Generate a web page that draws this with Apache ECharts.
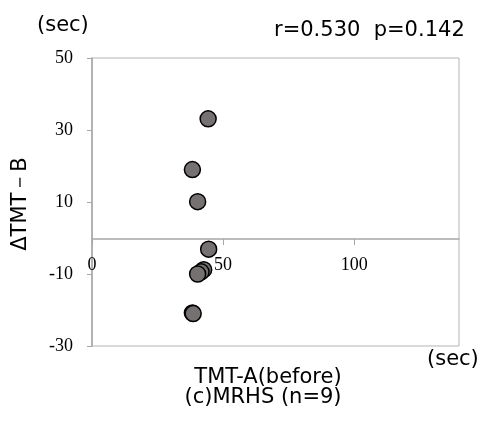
<!DOCTYPE html>
<html>
<head>
<meta charset="utf-8">
<script src="https://cdn.jsdelivr.net/npm/echarts@6/dist/echarts.min.js"></script>
<style>
  html, body { margin: 0; padding: 0; background: #fff; }
  #chart { width: 479px; height: 421px; }
</style>
</head>
<body>
<div id="chart"></div>
<script>
// TMT-A (before) vs ΔTMT-B, MRHS group
var tmtA = [44.3, 38.3, 40.3, 44.5, 42.6, 41.6, 40.3, 38.3, 38.6];
var deltaB = [33.1, 19.0, 10.1, -3.1, -8.8, -9.4, -10.0, -20.8, -21.0];
var yTickLabels = [-30, -10, 10, 30, 50];
var xTickLabels = [0, 50, 100];

var points = tmtA.map(function (x, i) { return [x, deltaB[i]]; });

var chart = echarts.init(document.getElementById('chart'));
var tickFont = { fontFamily: 'Liberation Serif', fontSize: 18, color: '#000' };
var txt = '21px "DejaVu Sans"';

chart.setOption({
  animation: false,
  grid: {
    left: 92, right: 20, top: 58, bottom: 75,
    show: true, borderColor: '#b4b4b4', borderWidth: 1
  },
  xAxis: {
    type: 'value', min: 0, max: 140, interval: 50,
    position: 'bottom', offset: -107,   // sits on y = 0
    axisLine: { onZero: false, lineStyle: { color: '#a6a6a6', width: 1.5 } },
    axisTick: { length: 6, lineStyle: { color: '#a6a6a6' } },
    axisLabel: Object.assign({ margin: 17, showMaxLabel: false,
      formatter: function (v) { return xTickLabels.indexOf(v) >= 0 ? String(v) : ''; } }, tickFont),
    splitLine: { show: false }
  },
  yAxis: [
    { // data scale
      type: 'value', min: -30, max: 50,
      axisLine: { show: false }, axisTick: { show: false },
      axisLabel: { show: false }, splitLine: { show: false }
    },
    { // display scale shifted so ticks fall on -30, -10, ... 50
      type: 'value', position: 'left', min: 0, max: 80, interval: 20,
      axisLine: { show: true, lineStyle: { color: '#a6a6a6', width: 1.5 } },
      axisTick: { show: true, length: 5, lineStyle: { color: '#a6a6a6' } },
      axisLabel: Object.assign({ margin: 19,
        formatter: function (v) { return String(yTickLabels[v / 20]); } }, tickFont),
      splitLine: { show: false }
    }
  ],
  series: [{
    type: 'scatter',
    yAxisIndex: 0,
    data: points,
    symbolSize: 16,
    itemStyle: { color: '#767171', borderColor: '#000', borderWidth: 1.5, opacity: 1 }
  }],
  graphic: [
    { type: 'text', x: 37, y: 26,
      style: { text: '(sec)', font: txt, fill: '#000', verticalAlign: 'middle' } },
    { type: 'text', x: 274, y: 31,
      style: { text: 'r=0.530  p=0.142', font: txt, fill: '#000', verticalAlign: 'middle' } },
    { type: 'text', x: 21, y: 204, rotation: Math.PI / 2,
      style: { text: 'ΔTMT－B', font: txt, fill: '#000', align: 'center', verticalAlign: 'middle' } },
    { type: 'text', x: 427, y: 360,
      style: { text: '(sec)', font: txt, fill: '#000', verticalAlign: 'middle' } },
    { type: 'text', x: 268, y: 378,
      style: { text: 'TMT-A(before)', font: txt, fill: '#000', align: 'center', verticalAlign: 'middle' } },
    { type: 'text', x: 263, y: 398,
      style: { text: '(c)MRHS (n=9)', font: txt, fill: '#000', align: 'center', verticalAlign: 'middle' } }
  ]
});
</script>
</body>
</html>
